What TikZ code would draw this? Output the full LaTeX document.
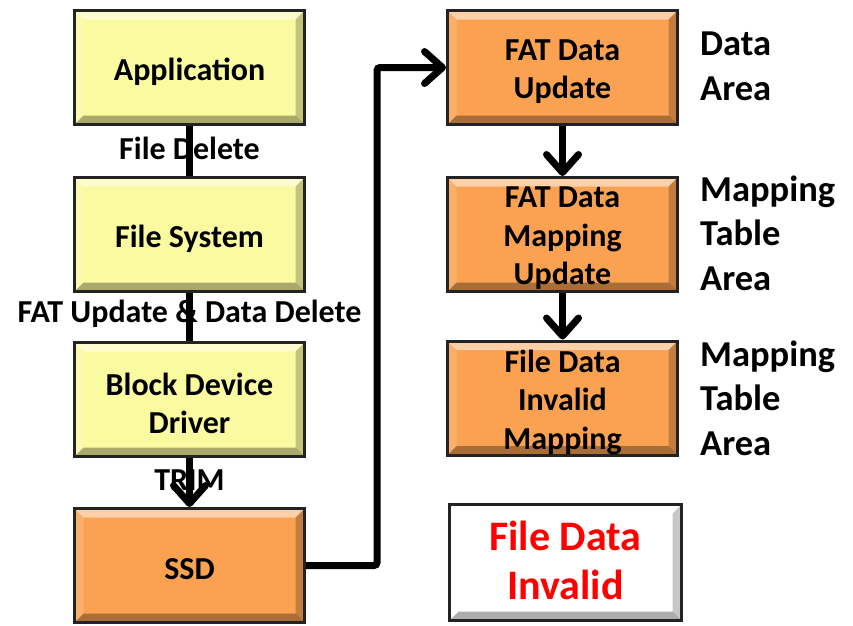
\documentclass[tikz,border=0pt]{standalone}
\usepackage{fontspec}
\setmainfont{Carlito}
\usetikzlibrary{arrows.meta}
\definecolor{boxyellow}{RGB}{250,250,160}
\definecolor{boxorange}{RGB}{250,162,82}
\definecolor{boxedge}{RGB}{35,35,35}
\definecolor{alertred}{RGB}{255,0,0}
\tikzset{
  bevelbox/.style={
    draw=boxedge, line width=3pt, fill=#1,
    minimum width=230pt, minimum height=114pt,
    inner sep=0pt,
    path picture={
      % top, left, right and bottom bevel bands
      \fill[white, opacity=0.5]
        (path picture bounding box.north west) -- (path picture bounding box.north east)
        -- ([shift={(-9pt,-9pt)}]path picture bounding box.north east)
        -- ([shift={(9pt,-9pt)}]path picture bounding box.north west) -- cycle;
      \fill[white, opacity=0.15]
        (path picture bounding box.north west) -- ([shift={(9pt,-9pt)}]path picture bounding box.north west)
        -- ([shift={(9pt,9pt)}]path picture bounding box.south west)
        -- (path picture bounding box.south west) -- cycle;
      \fill[black, opacity=0.22]
        (path picture bounding box.north east) -- ([shift={(-9pt,-9pt)}]path picture bounding box.north east)
        -- ([shift={(-9pt,9pt)}]path picture bounding box.south east)
        -- (path picture bounding box.south east) -- cycle;
      \fill[black, opacity=0.32]
        (path picture bounding box.south west) -- ([shift={(9pt,9pt)}]path picture bounding box.south west)
        -- ([shift={(-9pt,9pt)}]path picture bounding box.south east)
        -- (path picture bounding box.south east) -- cycle;
    }
  },
  boxtext/.style={align=center, inner sep=0pt, yshift=-4pt,
    font=\bfseries\fontsize{32}{38.5}\selectfont},
  redtext/.style={align=center, inner sep=0pt, yshift=2pt, text=alertred,
    font=\bfseries\fontsize{42}{49}\selectfont},
  flowline/.style={line width=7pt, draw=black, line cap=butt},
  flowarrow/.style={flowline, -{Straight Barb[length=18pt,width=32pt,round]}},
  edgelabel/.style={font=\bfseries\fontsize{32}{36}\selectfont, inner sep=0pt},
  sidelabel/.style={font=\bfseries\fontsize{36.5}{44.5}\selectfont, align=left,
    anchor=west, inner sep=0pt}
}
\begin{document}
\begin{tikzpicture}[x=1pt, y=-1pt]
\useasboundingbox (0,0) rectangle (853,625);

% left column: software stack down to the drive
\node[bevelbox=boxyellow, label={[boxtext]center:Application}] (app) at (189.5,67.5) {};
\node[bevelbox=boxyellow, label={[boxtext]center:File System}] (fs) at (189.5,234.5) {};
\node[bevelbox=boxyellow, label={[boxtext]center:Block Device\\Driver}] (bdd) at (189.5,399.5) {};
\node[bevelbox=boxorange, label={[boxtext]center:SSD}] (ssd) at (189.5,565.5) {};

% right column: what happens inside the drive
\node[bevelbox=boxorange, label={[boxtext]center:FAT Data\\Update}] (fdu) at (562.5,67.5) {};
\node[bevelbox=boxorange, label={[boxtext]center:FAT Data\\Mapping\\Update}] (fmu) at (562.5,234.5) {};
\node[bevelbox=boxorange, label={[boxtext]center:File Data\\Invalid\\Mapping}] (fim) at (562.5,398) {};
\node[bevelbox=white, minimum width=232pt, minimum height=116pt,
      label={[redtext]center:File Data\\Invalid}] (fdi) at (565.5,562.5) {};

% area annotations
\node[sidelabel] (l1) at (700,66.5) {Data\\Area};
\node[sidelabel] (l2) at (700,233) {Mapping\\Table\\Area};
\node[sidelabel] (l3) at (700,398) {Mapping\\Table\\Area};

% operation labels (connectors are drawn over them)
\node[edgelabel] (e1) at (189.5,148) {File Delete};
\node[edgelabel] (e2) at (189.5,314) {FAT Update \& Data Delete};
\node[edgelabel] (e3) at (189.5,480) {TRIM};

% connectors
\draw[flowline] (app.south) -- (fs.north);
\draw[flowline] (fs.south) -- (bdd.north);
\draw[flowarrow] (bdd.south) -- (ssd.north);
\draw[flowarrow, rounded corners=3pt] (ssd.east) -- ++(71,0) |- (fdu.west);
\draw[flowarrow] (fdu.south) -- (fmu.north);
\draw[flowarrow] (fmu.south) -- (fim.north);
\end{tikzpicture}
\end{document}
